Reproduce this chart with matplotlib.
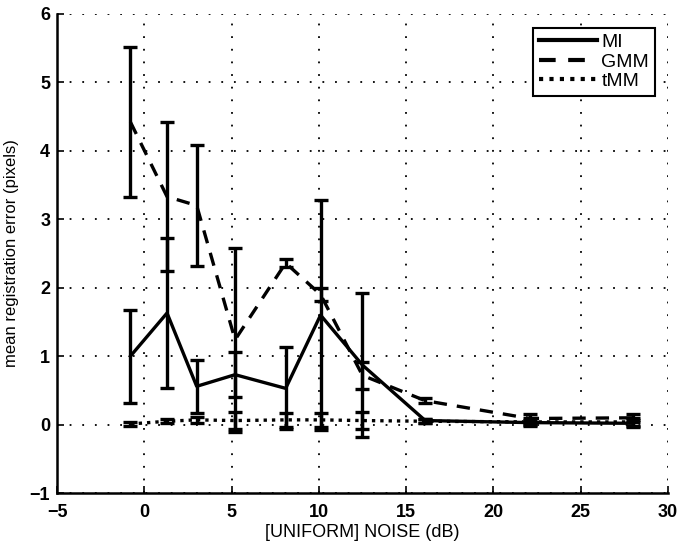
import matplotlib.pyplot as plt
from matplotlib.lines import Line2D
import numpy as np

# noise levels (dB)
noise_db = [-0.8, 1.3, 3.0, 5.2, 8.1, 10.1, 12.5, 16.1, 22.1, 28.0]

# mean registration error and spread for each method
mi_mean = [1.0, 1.63, 0.56, 0.73, 0.53, 1.6, 0.87, 0.06, 0.03, 0.02]
mi_err = [0.68, 1.1, 0.39, 0.33, 0.6, 1.68, 1.05, 0.03, 0.04, 0.05]

gmm_mean = [4.42, 3.33, 3.2, 1.24, 2.36, 1.9, 0.72, 0.35, 0.09, 0.1]
gmm_err = [1.1, 1.09, 0.89, 1.34, 0.06, 0.1, 0.2, 0.04, 0.06, 0.06]

tmm_mean = [0.01, 0.05, 0.07, 0.06, 0.07, 0.07, 0.06, 0.05, 0.04, 0.04]
tmm_err = [0.03, 0.03, 0.04, 0.12, 0.1, 0.1, 0.12, 0.03, 0.06, 0.06]

labels = ['MI', 'GMM', 'tMM']
styles = ['-', (0, (4, 3)), (0, (1, 1.5))]

plt.rcParams['font.family'] = ['Liberation Sans', 'DejaVu Sans']

fig = plt.figure(figsize=(6.8, 5.51), dpi=100)
ax = fig.add_axes([0.084, 0.105, 0.898, 0.870])

lw = 2.4
for mean, err, ls, lab in zip([mi_mean, gmm_mean, tmm_mean],
                              [mi_err, gmm_err, tmm_err], styles, labels):
    ax.errorbar(noise_db, mean, yerr=err, color='black', linestyle=ls,
                linewidth=lw, elinewidth=lw, capsize=5, capthick=lw, label=lab)

ax.set_xlim(-5, 30)
ax.set_ylim(-1, 6)
ax.set_xticks(np.arange(-5, 31, 5))
ax.set_yticks(np.arange(-1, 7, 1))
ax.set_xticklabels([str(t).replace('-', '\u2212') for t in range(-5, 31, 5)],
                   fontweight='bold')
ax.set_yticklabels([str(t).replace('-', '\u2212') for t in range(-1, 7, 1)],
                   fontweight='bold')
ax.tick_params(direction='in', length=5, width=1.2, labelsize=13)
ax.tick_params(axis='x', pad=8)
ax.tick_params(axis='y', pad=5)

ax.grid(True, color='black', linestyle=(0, (1, 6)), linewidth=1.3)
ax.spines['top'].set_visible(False)
ax.spines['right'].set_visible(False)
ax.spines['left'].set_linewidth(1.8)
ax.spines['bottom'].set_linewidth(1.8)

ax.set_xlabel('[UNIFORM] NOISE (dB)', fontsize=13, labelpad=2)
ax.set_ylabel('mean registration error (pixels)', fontsize=12, labelpad=8)

# legend shows plain line samples, no error bar caps
handles = [Line2D([], [], color='black', linestyle=ls, linewidth=3)
           for ls in styles]
leg = ax.legend(handles, labels, loc='upper right',
                bbox_to_anchor=(0.979, 0.971), fontsize=14,
                fancybox=False, framealpha=1, edgecolor='black',
                handlelength=3.0, handletextpad=0.2, borderpad=0.3,
                labelspacing=0.1, borderaxespad=0)
leg.get_frame().set_linewidth(1.5)

fig.savefig('out.png', dpi=100)
